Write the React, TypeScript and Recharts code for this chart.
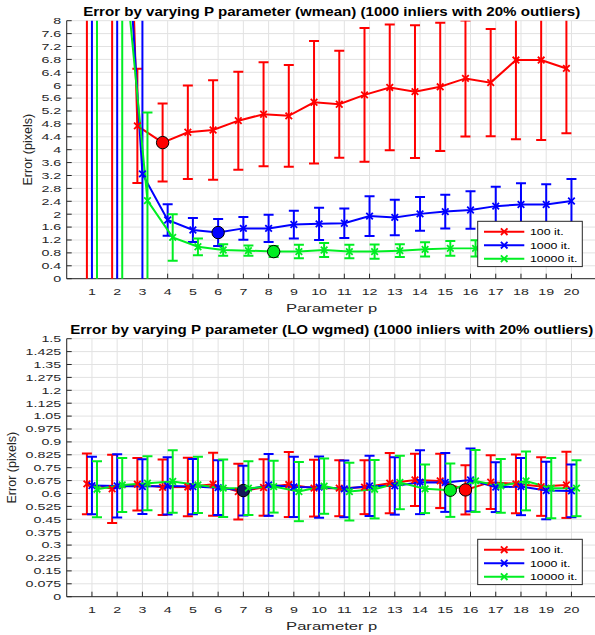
import React from 'react'
import { LineChart, Line, XAxis, YAxis, CartesianGrid, ErrorBar, ReferenceDot } from 'recharts'

// parameter p on the x axis
const P = [1, 2, 3, 4, 5, 6, 7, 8, 9, 10, 11, 12, 13, 14, 15, 16, 17, 18, 19, 20]
const TOP_Y_TICKS = [0, 0.4, 0.8, 1.2, 1.6, 2, 2.4, 2.8, 3.2, 3.6, 4, 4.4, 4.8, 5.2, 5.6, 6, 6.4, 6.8, 7.2, 7.6, 8]
const BOTTOM_Y_TICKS = [0, 0.075, 0.15, 0.225, 0.3, 0.375, 0.45, 0.525, 0.6, 0.675, 0.75, 0.825, 0.9, 0.975, 1.05, 1.125, 1.2, 1.275, 1.35, 1.425, 1.5]
const SERIES_NAMES = ['100 it.', '1000 it.', '10000 it.']
const COLORS = ['#ff0000', '#0000ff', '#00ee22']
const BEST_FILL_BOTTOM = ['#ff0000', '#16165a', '#00ee22']

// wmean: mean error and std per p
const wmean100 = [40, 30, 4.74, 4.22, 4.54, 4.61, 4.9, 5.1, 5.05, 5.47, 5.41, 5.7, 5.93, 5.8, 5.95, 6.21, 6.08, 6.78, 6.78, 6.52]
const wmean100Std = [50, 35, 1.77, 1.21, 1.45, 1.54, 1.52, 1.61, 1.58, 1.9, 1.66, 2.07, 1.95, 2.06, 1.99, 1.8, 1.66, 2.46, 2.48, 2.01]
const wmean1000 = [35, 15.7, 3.25, 1.82, 1.51, 1.43, 1.56, 1.56, 1.68, 1.7, 1.72, 1.94, 1.9, 2.01, 2.08, 2.13, 2.25, 2.3, 2.3, 2.41]
const wmean1000Std = [45, 20, 6, 0.49, 0.37, 0.42, 0.35, 0.42, 0.43, 0.5, 0.46, 0.62, 0.55, 0.52, 0.52, 0.58, 0.6, 0.66, 0.63, 0.68]
const wmean10000 = [25, 10.6, 2.42, 1.28, 0.99, 0.89, 0.87, 0.84, 0.84, 0.89, 0.84, 0.84, 0.87, 0.91, 0.94, 0.94, 0.93, 0.95, 0.94, 0.95]
const wmean10000Std = [35, 15, 2.73, 0.72, 0.26, 0.18, 0.16, 0.17, 0.21, 0.22, 0.21, 0.22, 0.2, 0.22, 0.23, 0.25, 0.24, 0.24, 0.24, 0.24]
const wmeanBestP = [4, 6, 8]

// LO wgmed
const lo100 = [0.656, 0.627, 0.654, 0.636, 0.638, 0.654, 0.611, 0.635, 0.652, 0.631, 0.631, 0.637, 0.66, 0.679, 0.673, 0.621, 0.666, 0.656, 0.64, 0.65]
const lo100Std = [0.177, 0.198, 0.153, 0.161, 0.17, 0.183, 0.162, 0.164, 0.189, 0.165, 0.163, 0.157, 0.175, 0.152, 0.158, 0.143, 0.156, 0.171, 0.17, 0.192]
const lo1000 = [0.646, 0.644, 0.64, 0.644, 0.64, 0.634, 0.617, 0.65, 0.638, 0.637, 0.627, 0.644, 0.644, 0.666, 0.664, 0.679, 0.637, 0.64, 0.617, 0.615]
const lo1000Std = [0.167, 0.184, 0.159, 0.166, 0.16, 0.159, 0.145, 0.18, 0.175, 0.178, 0.165, 0.175, 0.167, 0.186, 0.171, 0.183, 0.145, 0.166, 0.167, 0.153]
const lo10000 = [0.625, 0.65, 0.66, 0.67, 0.65, 0.631, 0.631, 0.64, 0.611, 0.643, 0.611, 0.625, 0.664, 0.627, 0.619, 0.673, 0.644, 0.673, 0.631, 0.631]
const lo10000Std = [0.163, 0.157, 0.157, 0.182, 0.163, 0.167, 0.156, 0.151, 0.172, 0.161, 0.168, 0.17, 0.155, 0.141, 0.155, 0.18, 0.156, 0.171, 0.175, 0.163]
const loBestP = [16, 7, 15]

const SHIFT = [-0.2, 0, 0.2]
const FONT = '"Liberation Sans", Arial, Helvetica, sans-serif'
const AXIS = '#262626'
const W = 600
const H = 311.7
const PLOT_TOP = 20.7
const PLOT_LEFT = 66.7
const PLOT_RIGHT = 596.7
const PLOT_BOTTOM = 278.7
const X_DOMAIN: [number, number] = [0, 21]

function STxt({ x, y, sx = 1.5, size = 9.5, anchor = 'middle', weight = 'normal', fill = AXIS, rotate = 0, children }: any) {
  return (
    <text
      transform={`translate(${x},${y}) rotate(${rotate}) scale(${sx},1)`}
      fontSize={size}
      fontFamily={FONT}
      fontWeight={weight}
      textAnchor={anchor}
      fill={fill}
    >
      {children}
    </text>
  )
}

function YTick({ x, y, payload }: any) {
  return (
    <g>
      <line x1={x} x2={x + 5} y1={y} y2={y} stroke={AXIS} />
      <STxt x={x - 5.5} y={y + 3.4} anchor="end">{String(payload.value)}</STxt>
    </g>
  )
}

function RightTick({ x, y }: any) {
  return <line x1={x} x2={x - 5} y1={y} y2={y} stroke={AXIS} />
}

function XTick({ x, y, payload }: any) {
  return (
    <g>
      <line x1={x} x2={x} y1={y} y2={y - 5} stroke={AXIS} />
      <STxt x={x} y={y + 16}>{String(payload.value)}</STxt>
    </g>
  )
}

function TopTick({ x, y }: any) {
  return <line x1={x} x2={x} y1={y} y2={y + 5} stroke={AXIS} />
}

function XMark({ cx, cy, color }: any) {
  if (cx == null || cy == null) return <g />
  const s = 3.3
  return (
    <path
      d={`M${cx - s},${cy - s}L${cx + s},${cy + s}M${cx - s},${cy + s}L${cx + s},${cy - s}`}
      stroke={color}
      strokeWidth={1.8}
      fill="none"
    />
  )
}

function LegendBox() {
  return (
    <g transform="translate(477.7,221.3)">
      <rect x={0} y={0} width={104.6} height={45.3} fill="#fff" stroke={AXIS} strokeWidth={1} />
      {SERIES_NAMES.map((name, i) => {
        const cy = 10.4 + i * 13.5
        return (
          <g key={name}>
            <line x1={6.3} x2={46.6} y1={cy} y2={cy} stroke={COLORS[i]} strokeWidth={2} />
            <XMark cx={26.5} cy={cy} color={COLORS[i]} />
            <STxt x={52.3} y={cy + 3.4} anchor="start" sx={1.3} fill="#000">{name}</STxt>
          </g>
        )
      })}
    </g>
  )
}

type Series = { means: number[]; errs: number[] }

function Panel({ top, title, yTicks, series, bestP, bestFill, yLabelX }: { top: number; title: string; yTicks: number[]; series: Series[]; bestP: number[]; bestFill: string[]; yLabelX: number }) {
  const yMax = yTicks[yTicks.length - 1]
  const clip = `inset(${PLOT_TOP}px ${W - PLOT_RIGHT}px ${H - PLOT_BOTTOM}px ${PLOT_LEFT}px)`
  return (
    <div style={{ position: 'absolute', left: 0, top, width: W, height: H }}>
      {/* axes, ticks and grid */}
      <div style={{ position: 'absolute', left: 0, top: 0 }}>
        <LineChart width={W} height={H} margin={{ top: PLOT_TOP, right: W - PLOT_RIGHT, bottom: 0, left: 0 }}>
          <CartesianGrid xAxisId="b" yAxisId="l" stroke="#e2e2e2" />
          <XAxis xAxisId="b" type="number" dataKey="x" domain={X_DOMAIN} ticks={P} allowDataOverflow
            height={H - PLOT_BOTTOM} tickSize={0} tickMargin={0} tick={<XTick />} stroke={AXIS} interval={0} />
          <XAxis xAxisId="t" orientation="top" type="number" dataKey="x" domain={X_DOMAIN} ticks={P} allowDataOverflow
            height={0} tickSize={0} tickMargin={0} tick={<TopTick />} stroke={AXIS} interval={0} />
          <YAxis yAxisId="l" type="number" domain={[0, yMax]} ticks={yTicks} allowDataOverflow
            width={PLOT_LEFT} tickSize={0} tickMargin={0} tick={<YTick />} stroke={AXIS} interval={0} />
          <YAxis yAxisId="r" orientation="right" type="number" domain={[0, yMax]} ticks={yTicks} allowDataOverflow
            width={0} tickSize={0} tickMargin={0} tick={<RightTick />} stroke={AXIS} interval={0} />
        </LineChart>
      </div>
      {/* data, clipped to the plot box */}
      <div style={{ position: 'absolute', left: 0, top: 0, clipPath: clip }}>
        <LineChart width={W} height={H} margin={{ top: PLOT_TOP, right: W - PLOT_RIGHT, bottom: H - PLOT_BOTTOM, left: PLOT_LEFT }}>
          <XAxis hide type="number" dataKey="x" domain={X_DOMAIN} allowDataOverflow />
          <YAxis hide type="number" domain={[0, yMax]} allowDataOverflow />
          {series.map((s, k) => {
            const rows = P.map((p, i) => ({ x: p + SHIFT[k], y: s.means[i], err: s.errs[i] }))
            const bi = P.indexOf(bestP[k])
            return [
              <Line
                key={`line-${k}`}
                data={rows}
                dataKey="y"
                stroke={COLORS[k]}
                strokeWidth={2}
                isAnimationActive={false}
                dot={(props: any) => <XMark key={`d-${k}-${props.index}`} cx={props.cx} cy={props.cy} color={COLORS[k]} />}
                activeDot={false}
              >
                <ErrorBar dataKey="err" direction="y" width={5} strokeWidth={2} stroke={COLORS[k]} isAnimationActive={false} />
              </Line>,
              <ReferenceDot
                key={`best-${k}`}
                x={P[bi] + SHIFT[k]}
                y={s.means[bi]}
                r={6.2}
                fill={bestFill[k]}
                stroke="#000"
                strokeWidth={1}
              />,
            ]
          })}
        </LineChart>
      </div>
      <svg width={W} height={330} style={{ position: 'absolute', left: 0, top: 0, overflow: 'visible', pointerEvents: 'none' }}>
        <STxt x={(PLOT_LEFT + PLOT_RIGHT) / 2} y={15.5} size={12} sx={1.26} weight="bold" fill="#000">{title}</STxt>
        <STxt x={(PLOT_LEFT + PLOT_RIGHT) / 2} y={PLOT_BOTTOM + 33} size={10.5} sx={1.58}>Parameter p</STxt>
        <STxt x={yLabelX} y={(PLOT_TOP + PLOT_BOTTOM) / 2} size={12.5} sx={1} rotate={-90}>Error (pixels)</STxt>
        <LegendBox />
      </svg>
    </div>
  )
}

export default function App() {
  const topSeries = [
    { means: wmean100, errs: wmean100Std },
    { means: wmean1000, errs: wmean1000Std },
    { means: wmean10000, errs: wmean10000Std },
  ]
  const bottomSeries = [
    { means: lo100, errs: lo100Std },
    { means: lo1000, errs: lo1000Std },
    { means: lo10000, errs: lo10000Std },
  ]
  return (
    <div style={{ position: 'absolute', left: 0, top: 0, width: 595, height: 635, overflow: 'hidden', background: '#fff', fontFamily: FONT }}>
      <Panel
        top={0}
        title="Error by varying P parameter (wmean) (1000 inliers with 20% outliers)"
        yTicks={TOP_Y_TICKS}
        series={topSeries}
        bestP={wmeanBestP}
        bestFill={COLORS}
        yLabelX={31.5}
      />
      <Panel
        top={318.3}
        title="Error by varying P parameter (LO wgmed) (1000 inliers with 20% outliers)"
        yTicks={BOTTOM_Y_TICKS}
        series={bottomSeries}
        bestP={loBestP}
        bestFill={BEST_FILL_BOTTOM}
        yLabelX={16}
      />
    </div>
  )
}
